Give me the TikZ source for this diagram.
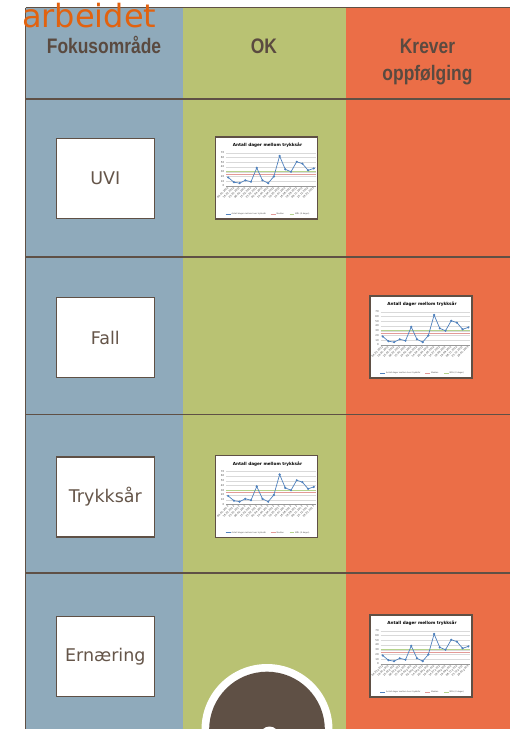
\documentclass[tikz,border=0pt]{standalone}
\usepackage{fontspec}
\setmainfont{DejaVu Sans}
\newfontfamily\hdrfont{Liberation Sans}
\definecolor{colblue}{HTML}{8FAABB}
\definecolor{colgreen}{HTML}{B9C273}
\definecolor{colred}{HTML}{EB6E47}
\definecolor{linebrown}{HTML}{5F5045}
\definecolor{txtbrown}{HTML}{655549}
\definecolor{hdrbrown}{HTML}{5A4A40}
\definecolor{orangetxt}{HTML}{E2620F}
\definecolor{chblue}{HTML}{4F81BD}
\definecolor{chred}{HTML}{E39A97}
\definecolor{chgreen}{HTML}{B5D38C}
\tikzset{
  rule/.style={draw=linebrown, line width=1.6pt},
  areabox/.style={draw=linebrown, line width=1.1pt, fill=white, minimum width=98pt, minimum height=80pt, inner sep=0pt, text=txtbrown, font=\fontsize{17.5}{20}\selectfont},
  hdr/.style={text=hdrbrown, font=\hdrfont\bfseries\fontsize{21}{24}\selectfont, inner sep=0pt, anchor=base},
  tinytxt/.style={inner sep=0pt, text=black!70, font=\fontsize{2.6}{3}\selectfont},
}
\newcommand\minichart[2]{%
\begin{scope}[shift={(#1,#2)}]
  \fill[white] (0,0) rectangle (102,82);
  \foreach \v in {0,10,...,70}{
    \draw[black!15, line width=0.25pt] (10.7,{49-\v*0.4757}) -- (100,{49-\v*0.4757});
    \node[tinytxt, anchor=east] at (9,{49-\v*0.4757}) {\v};
  }
  \draw[chgreen, line width=0.9pt] (10.7,34.73) -- (100,34.73);
  \draw[chred, line width=0.9pt] (10.7,37.1) -- (100,37.1);
  \draw[black!40, line width=0.3pt] (10.7,49) -- (100,49);
  \draw[chblue, line width=0.7pt] plot[mark=*, mark size=0.7pt, mark options={fill=chblue}] coordinates {
    (12.7,40.44) (18.4,45.19) (24.1,46.15) (29.8,43.29) (35.5,44.72) (41.25,30.92)
    (46.95,43.29) (52.65,46.15) (58.35,39.49) (64.1,19.03) (69.8,32.35) (75.5,34.73)
    (81.2,24.74) (86.9,26.64) (92.6,33.3) (98.3,31.4)};
  \foreach \xx/\d in {12.7/04.01.2012,18.4/18.01.2012,24.1/25.01.2012,29.8/06.02.2012,35.5/15.02.2012,41.25/23.02.2012,46.95/02.04.2012,52.65/14.04.2012,58.35/20.04.2012,64.1/10.05.2012,69.8/14.07.2012,75.5/18.08.2012,81.2/18.09.2012,86.9/08.11.2012,92.6/25.12.2012,98.3/28.01.2013}{
    \node[tinytxt, anchor=east, rotate=45] at (\xx,50.5) {\d};
  }
  \node[inner sep=0pt, font=\bfseries\fontsize{4.2}{5}\selectfont] at (52,8.5) {Antall dager mellom trykksår};
  \draw[chblue, line width=0.6pt] (10,77) -- (15,77);
  \node[tinytxt, anchor=west, font=\fontsize{2}{2}\selectfont] at (16,77) {Antall dager mellom hver trykksår};
  \draw[chred, line width=0.6pt] (55,77) -- (60,77);
  \node[tinytxt, anchor=west, font=\fontsize{2}{2}\selectfont] at (61,77) {Median};
  \draw[chgreen, line width=0.6pt] (74,77) -- (78.5,77);
  \node[tinytxt, anchor=west, font=\fontsize{2}{2}\selectfont] at (79.5,77) {MÅL (X dager)};
  \draw[draw=linebrown, line width=1.2pt] (0,0) rectangle (102,82);
\end{scope}}
\begin{document}
\begin{tikzpicture}[x=1pt,y=-1pt]
\clip (0,0) rectangle (510,729);
\useasboundingbox (0,0) rectangle (510,729);
\fill[white] (0,0) rectangle (510,729);
% columns
\fill[colblue] (25.5,7.5) rectangle (183,729);
\fill[colgreen] (183,7.5) rectangle (346,729);
\fill[colred] (346,7.5) rectangle (510,729);
% rules
\coordinate (tl) at (25.5,7.5);
\coordinate (tr) at (510,7.5);
\coordinate (bl) at (25.5,729);
\draw[rule] (tl) -- (tr);
\draw[rule] (tl) -- (bl);
\foreach \yy in {99,257,414.5,573}{
  \draw[rule] (25.5,\yy) -- (510,\yy);
}
% header
\node[hdr] (h1) at (104,53.3) {\scalebox{0.83}[1]{Fokusområde}};
\node[hdr] (h2) at (264,53.3) {\scalebox{0.83}[1]{OK}};
\node[hdr] (h3) at (427.5,53.3) {\scalebox{0.83}[1]{Krever}};
\node[hdr] (h4) at (427.5,80) {\scalebox{0.83}[1]{oppfølging}};
% title fragment
\node[text=orangetxt, font=\fontsize{32}{34}\selectfont, inner sep=0pt, anchor=base west] (arb) at (22,27) {arbeidet};
% focus area boxes
\node[areabox] (uvi) at (105.3,178.7) {UVI};
\node[areabox] (fall) at (105.3,337.5) {Fall};
\node[areabox] (tryk) at (105.3,497) {Trykksår};
\node[areabox] (ern) at (105.3,656.5) {Ernæring};
% charts
\minichart{215.5}{137}
\minichart{370}{296}
\minichart{215.5}{455.5}
\minichart{370}{615}
% bottom circle
\fill[white] (267,729.5) circle (65.5);
\fill[linebrown] (267,729.5) circle (57.8);
\fill[white] (269.5,736.2) circle (9.7);
\end{tikzpicture}
\end{document}
